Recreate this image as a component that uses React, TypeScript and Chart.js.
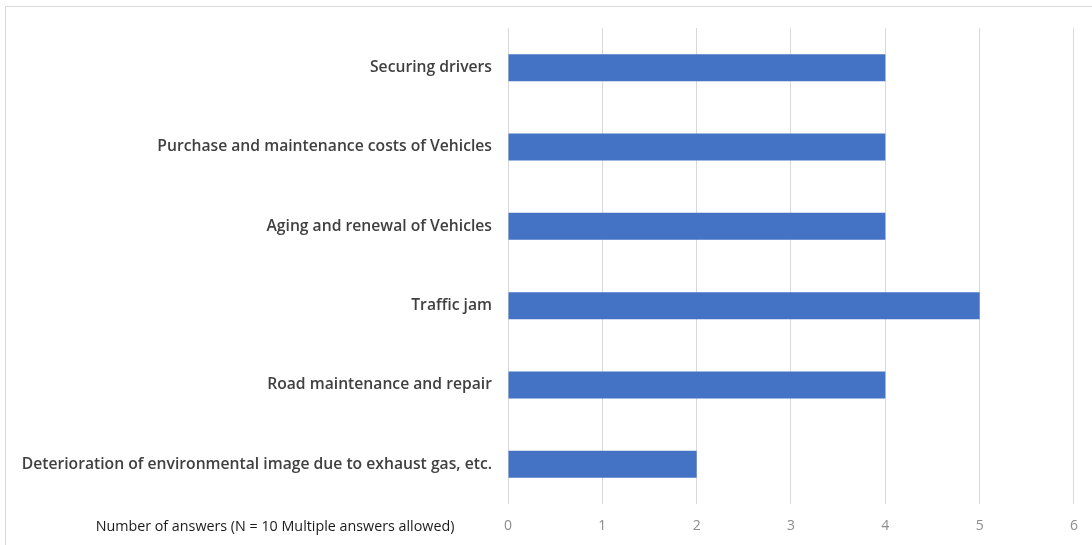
import React, { useEffect, useRef } from "react";
import { Chart, registerables } from "chart.js";

Chart.register(...registerables);

const categories: string[] = [
  "Securing drivers",
  "Purchase and maintenance costs of Vehicles",
  "Aging and renewal of Vehicles",
  "Traffic jam",
  "Road maintenance and repair",
  "Deterioration of environmental image due to exhaust gas, etc.",
];
const answers: number[] = [4, 4, 4, 5, 4, 2];
const xTicks: number[] = [0, 1, 2, 3, 4, 5, 6];
const axisTitle = "Number of answers (N = 10 Multiple answers allowed)";

export default function App() {
  const ref = useRef<HTMLCanvasElement | null>(null);

  useEffect(() => {
    document.body.style.margin = "0";
    const canvas = ref.current;
    if (!canvas) return;

    const framePlugin = {
      id: "frameAndTitle",
      beforeDraw(chart: any) {
        const ctx = chart.ctx;
        ctx.save();
        ctx.fillStyle = "#ffffff";
        ctx.fillRect(0, 0, chart.width, chart.height);
        ctx.strokeStyle = "#d9d9d9";
        ctx.lineWidth = 1;
        ctx.strokeRect(5.5, 6.5, chart.width + 20, chart.height + 20);
        ctx.restore();
      },
      afterDraw(chart: any) {
        const ctx = chart.ctx;
        const xs = chart.scales.x;
        ctx.save();
        ctx.font = "14.3px 'Open Sans'";
        ctx.fillStyle = "#1a1a1a";
        ctx.textAlign = "center";
        ctx.textBaseline = "middle";
        ctx.fillText(axisTitle, 275, xs.bottom - 18);
        ctx.restore();
      },
    };

    const chart = new Chart(canvas, {
      type: "bar",
      data: {
        labels: categories,
        datasets: [
          {
            data: answers,
            backgroundColor: "#4472c4",
            borderWidth: 0,
            categoryPercentage: 0.34,
            barPercentage: 1,
          },
        ],
      },
      options: {
        indexAxis: "y",
        responsive: false,
        animation: false,
        maintainAspectRatio: false,
        layout: { padding: { top: 28, right: 18, left: 0, bottom: 0 } },
        plugins: {
          legend: { display: false },
          tooltip: { enabled: false },
        },
        scales: {
          x: {
            min: 0,
            max: 6,
            afterBuildTicks(scale: any) {
              scale.ticks = xTicks.map((v) => ({ value: v }));
            },
            afterFit(scale: any) {
              scale.height = 41;
            },
            grid: { color: "#d9d9d9", drawTicks: false },
            border: { display: false },
            ticks: {
              padding: 14,
              color: "#8c8c8c",
              font: { family: "'Open Sans'", size: 14 },
            },
          },
          y: {
            afterFit(scale: any) {
              scale.width = 508;
            },
            grid: { display: false, drawTicks: false },
            border: { display: false },
            ticks: {
              padding: 16,
              color: "#404040",
              font: { family: "'Open Sans'", size: 15.7, weight: "600" },
            },
          },
        },
      },
      plugins: [framePlugin],
    });

    return () => chart.destroy();
  }, []);

  return (
    <div style={{ position: "absolute", left: 0, top: 0, width: 1092, height: 545 }}>
      <canvas ref={ref} width={1092} height={545} style={{ display: "block" }} />
    </div>
  );
}
